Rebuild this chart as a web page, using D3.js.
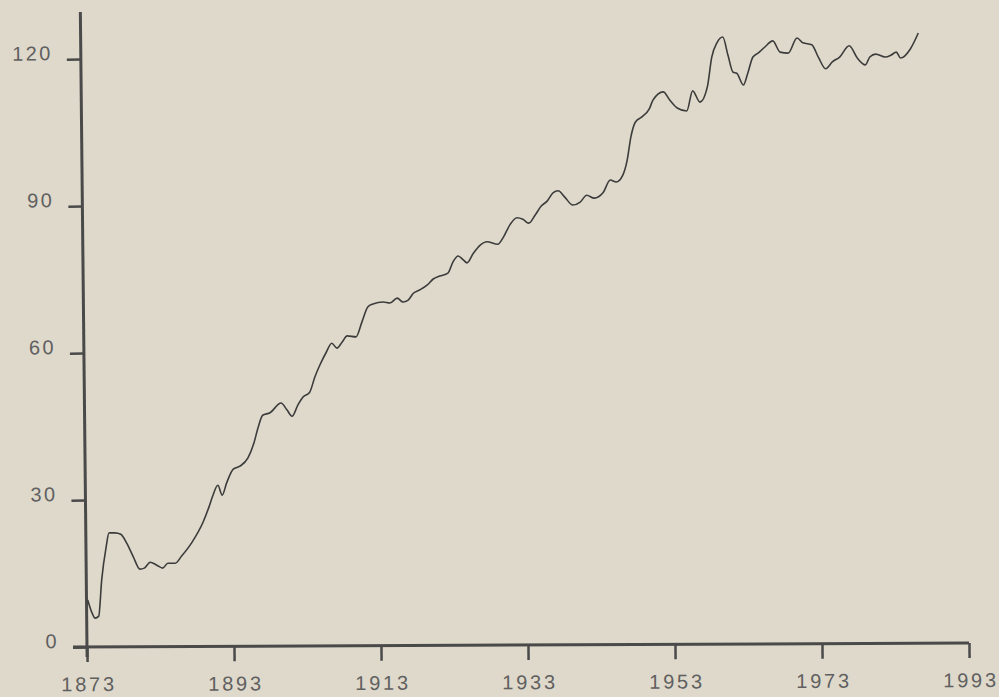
<!DOCTYPE html>
<html>
<head>
<meta charset="utf-8">
<script src="https://cdn.jsdelivr.net/npm/d3@7"></script>
<style>
  body { margin: 0; background: #dfd9cb; }
  svg { display: block; }
</style>
</head>
<body>
<script>
var width = 999,
    height = 697;

// values (year, index value)
var years = [1873.1, 1873.7, 1874.1, 1874.6, 1875.0, 1875.6, 1876.0, 1876.8, 1877.6, 1878.4,
  1879.3, 1880.2, 1880.8, 1881.6, 1882.5, 1883.3, 1884.0, 1885.0, 1885.9, 1887.3,
  1888.8, 1889.6, 1890.1, 1890.8, 1891.4, 1892.0, 1892.9, 1893.8, 1894.9, 1895.7,
  1896.3, 1896.9, 1897.9, 1899.4, 1900.2, 1900.9, 1901.7, 1902.4, 1903.3, 1904.0,
  1904.7, 1905.5, 1906.3, 1907.0, 1907.7, 1908.4, 1909.6, 1910.4, 1911.2, 1911.9,
  1913.3, 1914.2, 1915.2, 1916.0, 1916.7, 1917.4, 1918.3, 1919.3, 1920.1, 1921.0,
  1922.1, 1922.8, 1923.5, 1924.2, 1924.7, 1925.5, 1926.5, 1927.4, 1928.9, 1929.6,
  1930.6, 1931.5, 1932.3, 1933.1, 1934.0, 1934.8, 1935.6, 1936.4, 1937.1, 1938.0,
  1939.1, 1940.1, 1941.0, 1942.0, 1943.2, 1944.2, 1945.0, 1945.9, 1946.5, 1947.0,
  1947.6, 1948.5, 1949.5, 1950.0, 1951.4, 1952.3, 1953.3, 1954.6, 1955.4, 1956.4,
  1957.4, 1958.0, 1958.7, 1959.5, 1960.2, 1960.9, 1961.4, 1962.3, 1962.9, 1963.6,
  1964.3, 1965.2, 1966.3, 1967.3, 1968.4, 1969.6, 1970.4, 1971.6, 1972.5, 1973.5,
  1974.4, 1975.4, 1976.7, 1977.8, 1978.9, 1979.5, 1980.3, 1981.6, 1982.4, 1983.1,
  1983.7, 1985.0, 1986.1];

var values = [9.6, 6.9, 5.9, 6.3, 13.7, 20.4, 23.3, 23.3, 23.0, 21.2,
  18.4, 15.9, 16.1, 17.3, 16.7, 16.1, 17.1, 17.1, 18.6, 21.4,
  25.5, 28.6, 30.8, 33.0, 31.0, 33.5, 36.3, 36.9, 38.6, 41.6,
  44.9, 47.3, 47.8, 49.8, 48.4, 47.1, 49.4, 51.0, 52.0, 55.1,
  57.6, 60.0, 62.0, 61.0, 62.2, 63.5, 63.3, 66.3, 69.4, 70.0,
  70.4, 70.2, 71.2, 70.4, 70.8, 72.2, 72.9, 73.9, 75.1, 75.7,
  76.3, 78.6, 79.8, 79.0, 78.4, 80.2, 82.0, 82.7, 82.2, 83.5,
  86.3, 87.6, 87.3, 86.5, 88.2, 90.0, 91.0, 92.7, 93.1, 91.8,
  90.2, 90.8, 92.2, 91.6, 92.7, 95.3, 94.9, 96.3, 99.4, 104.1,
  107.1, 108.2, 109.8, 111.6, 113.3, 111.6, 110.0, 109.4, 113.5, 111.2,
  114.3, 120.4, 123.3, 124.5, 120.8, 117.3, 117.1, 114.7, 117.1, 120.4,
  121.2, 122.4, 123.7, 121.4, 121.2, 124.3, 123.3, 122.9, 120.4, 118.0,
  119.4, 120.4, 122.7, 120.2, 118.8, 120.4, 121.0, 120.4, 120.8, 121.4,
  120.2, 122.0, 125.3];

var xTicks = [1873, 1893, 1913, 1933, 1953, 1973, 1993];
var yTicks = [0, 30, 60, 90, 120];

var x = d3.scaleLinear().domain([1873, 1993]).range([87, 969]);
var y = d3.scaleLinear().domain([0, 120]).range([647, 59]);

var svg = d3.select("body").append("svg")
    .attr("width", width)
    .attr("height", height);

var ink = "#4a4a4a",
    labelInk = "#606060";

/* x axis (scan is slightly tilted) */
var gx = svg.append("g")
    .attr("transform", "translate(0," + y(0) + ") rotate(-0.26," + x(1873) + ",0)")
    .call(d3.axisBottom(x).tickValues(xTicks).tickFormat(d3.format("d"))
      .tickSize(15).tickPadding(15));
gx.select(".domain").remove();
gx.append("line")
    .attr("x1", x(1873) - 14).attr("x2", x(1993))
    .attr("stroke", ink).attr("stroke-width", 3);
gx.selectAll(".tick line").attr("stroke", ink).attr("stroke-width", 2.5);
gx.selectAll(".tick text")
    .attr("fill", labelInk)
    .style("font-family", "'Liberation Sans', Arial, sans-serif")
    .style("font-size", "20px")
    .style("letter-spacing", "2.8px")
    .attr("dx", "1.4px");

/* y axis */
var gy = svg.append("g")
    .attr("transform", "translate(" + x(1873) + ",0) rotate(-0.6,0," + y(0) + ")")
    .call(d3.axisLeft(y).tickValues(yTicks).tickSize(14).tickPadding(14));
gy.select(".domain").remove();
gy.append("line")
    .attr("y1", y(0) + 10).attr("y2", 12)
    .attr("stroke", ink).attr("stroke-width", 3);
gy.selectAll(".tick line").attr("stroke", ink).attr("stroke-width", 2.5);
gy.selectAll(".tick text")
    .attr("fill", labelInk)
    .attr("y", -6)
    .style("font-family", "'Liberation Sans', Arial, sans-serif")
    .style("font-size", "20px")
    .style("letter-spacing", "2.4px");

/* the series */
var line = d3.line()
    .x(function (d, i) { return x(years[i]); })
    .y(function (d) { return y(d); })
    .curve(d3.curveMonotoneX);

svg.append("path")
    .datum(values)
    .attr("fill", "none")
    .attr("stroke", "#3c3c3c")
    .attr("stroke-width", 1.6)
    .attr("stroke-linejoin", "round")
    .attr("d", line);
</script>
</body>
</html>
